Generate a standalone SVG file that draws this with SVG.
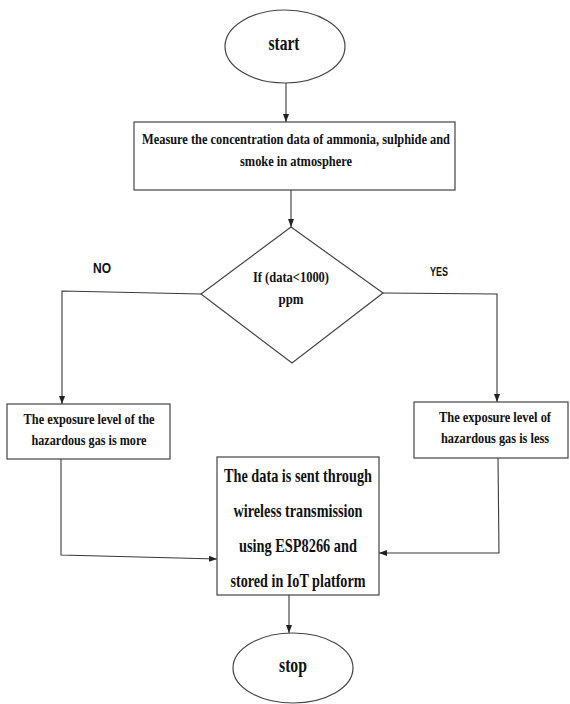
<svg xmlns="http://www.w3.org/2000/svg" width="570" height="704" viewBox="0 0 570 704">
<style>
.shape{fill:#fff;stroke:#444;stroke-width:1.2}
.conn{fill:none;stroke:#3a3a3a;stroke-width:1.1}
.t{font-family:"Liberation Serif","Times New Roman",serif;font-weight:bold;fill:#111;text-anchor:middle}
.lbl{font-family:"Liberation Sans",Arial,sans-serif;font-weight:bold;fill:#111;text-anchor:middle}
</style>
<defs>
<marker id="ah" markerUnits="userSpaceOnUse" markerWidth="8" markerHeight="6" refX="8" refY="3" orient="auto">
<path d="M0,0 L8,3 L0,6 z" fill="#222"/>
</marker>
</defs>
<rect width="570" height="704" fill="#fff"/>
<g id="connectors">
<line class="conn" x1="286" y1="83" x2="286" y2="122" marker-end="url(#ah)"/>
<line class="conn" x1="291" y1="190" x2="291" y2="227" marker-end="url(#ah)"/>
<polyline class="conn" points="201,294 62,291 62,404" marker-end="url(#ah)"/>
<polyline class="conn" points="383,293 497,294 497,402" marker-end="url(#ah)" stroke="#666"/>
<polyline class="conn" points="61,459 61,555 217,559" marker-end="url(#ah)"/>
<polyline class="conn" points="498,458 499,553 379,553" marker-end="url(#ah)" stroke="#666"/>
<line class="conn" x1="289" y1="595" x2="289" y2="633" marker-end="url(#ah)"/>
<text class="lbl" x="102" y="273" font-size="15" textLength="18" lengthAdjust="spacingAndGlyphs">NO</text>
<text class="lbl" x="439" y="276" font-size="13" textLength="18" lengthAdjust="spacingAndGlyphs">YES</text>
</g>
<g id="start">
<ellipse class="shape" cx="285" cy="46.5" rx="60" ry="36.5"/>
<text class="t" x="284" y="50" font-size="21" textLength="31" lengthAdjust="spacingAndGlyphs">start</text>
</g>
<g id="measure">
<rect class="shape" x="134" y="122" width="321" height="68"/>
<text class="t" x="296" y="144" font-size="15" textLength="308" lengthAdjust="spacingAndGlyphs">Measure the concentration data of ammonia, sulphide and</text>
<text class="t" x="296" y="166" font-size="15" textLength="112" lengthAdjust="spacingAndGlyphs">smoke in atmosphere</text>
</g>
<g id="decision">
<polygon class="shape" points="291,227 383,293 292,363 201,294"/>
<text class="t" x="291" y="282" font-size="15" textLength="76" lengthAdjust="spacingAndGlyphs">If (data&lt;1000)</text>
<text class="t" x="291" y="304" font-size="15" textLength="25" lengthAdjust="spacingAndGlyphs">ppm</text>
</g>
<g id="more">
<rect class="shape" x="7" y="404" width="163" height="55"/>
<text class="t" x="89" y="424" font-size="15" textLength="131" lengthAdjust="spacingAndGlyphs">The exposure level of the</text>
<text class="t" x="89" y="445" font-size="15" textLength="115" lengthAdjust="spacingAndGlyphs">hazardous gas is more</text>
</g>
<g id="less">
<rect class="shape" x="414" y="402" width="154" height="56"/>
<text class="t" x="495" y="422" font-size="14" textLength="112" lengthAdjust="spacingAndGlyphs">The exposure level of</text>
<text class="t" x="495" y="443" font-size="14" textLength="108" lengthAdjust="spacingAndGlyphs">hazardous gas is less</text>
</g>
<g id="send">
<rect class="shape" x="217" y="457" width="162" height="138"/>
<text class="t" x="298" y="482" font-size="19" textLength="148" lengthAdjust="spacingAndGlyphs">The data is sent through</text>
<text class="t" x="298" y="517" font-size="19" textLength="129" lengthAdjust="spacingAndGlyphs">wireless transmission</text>
<text class="t" x="298" y="552" font-size="19" textLength="118" lengthAdjust="spacingAndGlyphs">using ESP8266 and</text>
<text class="t" x="298" y="587" font-size="19" textLength="135" lengthAdjust="spacingAndGlyphs">stored in IoT platform</text>
</g>
<g id="stop">
<ellipse class="shape" cx="293" cy="668" rx="60" ry="35"/>
<text class="t" x="293" y="672" font-size="21" textLength="28" lengthAdjust="spacingAndGlyphs">stop</text>
</g>
</svg>
